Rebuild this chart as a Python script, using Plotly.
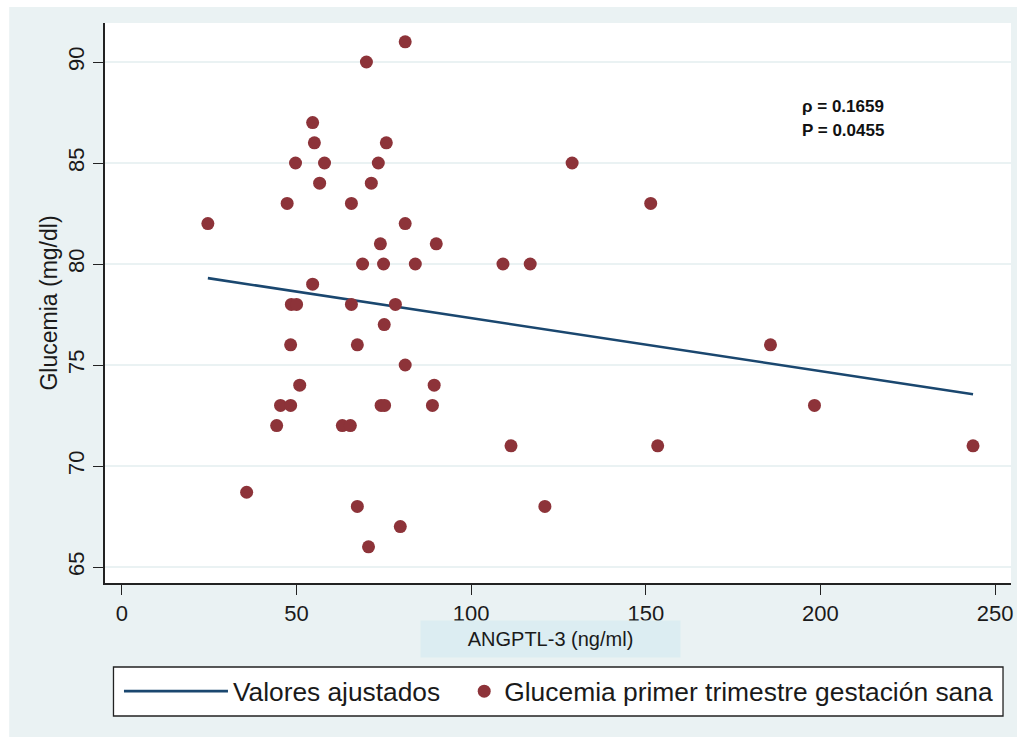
import plotly.graph_objects as go

# ANGPTL-3 (ng/ml) and first-trimester glucose (mg/dl)
angptl3 = [24.6, 35.7, 44.3, 45.4, 47.3, 48.3, 48.3, 48.5, 50.0, 49.7,
           50.9, 54.6, 55.1, 54.6, 56.6, 58.0, 63.1, 65.4, 65.7, 65.7,
           67.4, 67.4, 68.9, 70.0, 70.6, 71.4, 73.4, 74.0, 74.9, 74.2,
           75.2, 75.1, 75.7, 78.3, 79.7, 81.1, 81.1, 81.1, 84.0, 88.9,
           89.4, 90.0, 109.1, 111.4, 116.9, 121.1, 128.9, 151.4, 153.4,
           185.7, 198.3, 243.7]
glucemia = [82, 68.7, 72, 73, 83, 73, 76, 78, 78, 85,
            74, 87, 86, 79, 84, 85, 72, 72, 83, 78,
            76, 68, 80, 90, 66, 84, 85, 81, 80, 73,
            73, 77, 86, 78, 67, 91, 82, 75, 80, 73,
            74, 81, 80, 71, 80, 68, 85, 83, 71,
            76, 73, 71]

# fitted values (linear fit) at the ends of the observed range
fit_x = [24.6, 243.7]
fit_y = [79.3, 73.55]

x_ticks = [0, 50, 100, 150, 200, 250]
y_ticks = [65, 70, 75, 80, 85, 90]

rho_text = "ρ = 0.1659"
p_text = "P = 0.0455"

PANEL = "#EAF2F3"
NAVY = "#1A476F"
MAROON = "#8D3339"
FONT = "Liberation Sans"
INK = "#1a1a1a"

# plot-area geometry in pixels
W, H = 1023, 742
L, R, T, B = 105, 1013, 23, 583
pw, ph = R - L, B - T


def px(xp):
    return (xp - L) / pw


def py(yp):
    return (B - yp) / ph


fig = go.Figure()

fig.add_trace(go.Scatter(
    x=fit_x, y=fit_y, mode="lines", name="Valores ajustados",
    line=dict(color=NAVY, width=2.6), legend="legend",
))
fig.add_trace(go.Scatter(
    x=angptl3, y=glucemia, mode="markers",
    name="Glucemia primer trimestre gestación sana",
    marker=dict(color=MAROON, size=13, line=dict(width=0)),
    legend="legend2",
))

# light outer panel behind the whole graph
fig.add_shape(type="rect", xref="paper", yref="paper", layer="below",
              x0=px(9), x1=px(1019), y0=py(737), y1=py(7),
              fillcolor=PANEL, line=dict(width=0))
fig.add_shape(type="rect", xref="paper", yref="paper", layer="below",
              x0=0, x1=1, y0=0, y1=1,
              fillcolor="white", line=dict(width=0))
# frame holding both legend entries
fig.add_shape(type="rect", xref="paper", yref="paper", layer="below",
              x0=px(113.5), x1=px(1005), y0=py(716), y1=py(667),
              fillcolor="white", line=dict(color="#222222", width=1.3))

# correlation statistics
fig.add_annotation(xref="paper", yref="paper", x=px(802), y=py(106),
                   xanchor="left", yanchor="middle", showarrow=False,
                   text="<b>" + rho_text + "</b>",
                   font=dict(family=FONT, size=17, color="#111111"))
fig.add_annotation(xref="paper", yref="paper", x=px(802), y=py(130),
                   xanchor="left", yanchor="middle", showarrow=False,
                   text="<b>" + p_text + "</b>",
                   font=dict(family=FONT, size=17, color="#111111"))

# x-axis title on a tinted box
fig.add_annotation(xref="paper", yref="paper", x=px(551.5), y=py(639),
                   xanchor="center", yanchor="middle", showarrow=False,
                   text="ANGPTL-3 (ng/ml)", width=257, height=34,
                   bgcolor="#DCEDF2",
                   font=dict(family=FONT, size=20, color=INK))

fig.update_xaxes(
    range=[(L - 122) / 3.5, (R - 122) / 3.5],
    tickvals=x_ticks, ticks="outside", ticklen=10, tickwidth=1.3,
    tickcolor="#222222", showline=True, linecolor="#222222", linewidth=1.5,
    showgrid=False, zeroline=False,
    tickfont=dict(family=FONT, size=22, color=INK),
)
fig.update_yaxes(
    range=[90 - (B - 62) / 20.2, 90 + (62 - T) / 20.2],
    tickvals=y_ticks, ticks="outside", ticklen=10, tickwidth=1.3,
    tickcolor="#222222", showline=True, linecolor="#222222", linewidth=1.5,
    showgrid=True, gridcolor=PANEL, gridwidth=2, zeroline=False,
    tickangle=-90,
    tickfont=dict(family=FONT, size=22, color=INK),
    title=dict(text="Glucemia (mg/dl)", standoff=0,
               font=dict(family=FONT, size=23, color=INK)),
)

fig.update_layout(
    width=W, height=H,
    margin=dict(l=L, r=W - R, t=T, b=H - B, pad=0),
    paper_bgcolor="white", plot_bgcolor="white",
    showlegend=True,
    legend=dict(
        orientation="h", x=px(119), y=py(691.5), xanchor="left",
        yanchor="middle", bgcolor="rgba(0,0,0,0)", borderwidth=0,
        font=dict(family=FONT, size=26.3, color=INK), itemwidth=104,
    ),
    legend2=dict(
        orientation="h", x=px(465), y=py(691.5), xanchor="left",
        yanchor="middle", bgcolor="rgba(0,0,0,0)", borderwidth=0,
        font=dict(family=FONT, size=26.4, color=INK), itemwidth=30,
    ),
)

fig.write_html("out.html")
